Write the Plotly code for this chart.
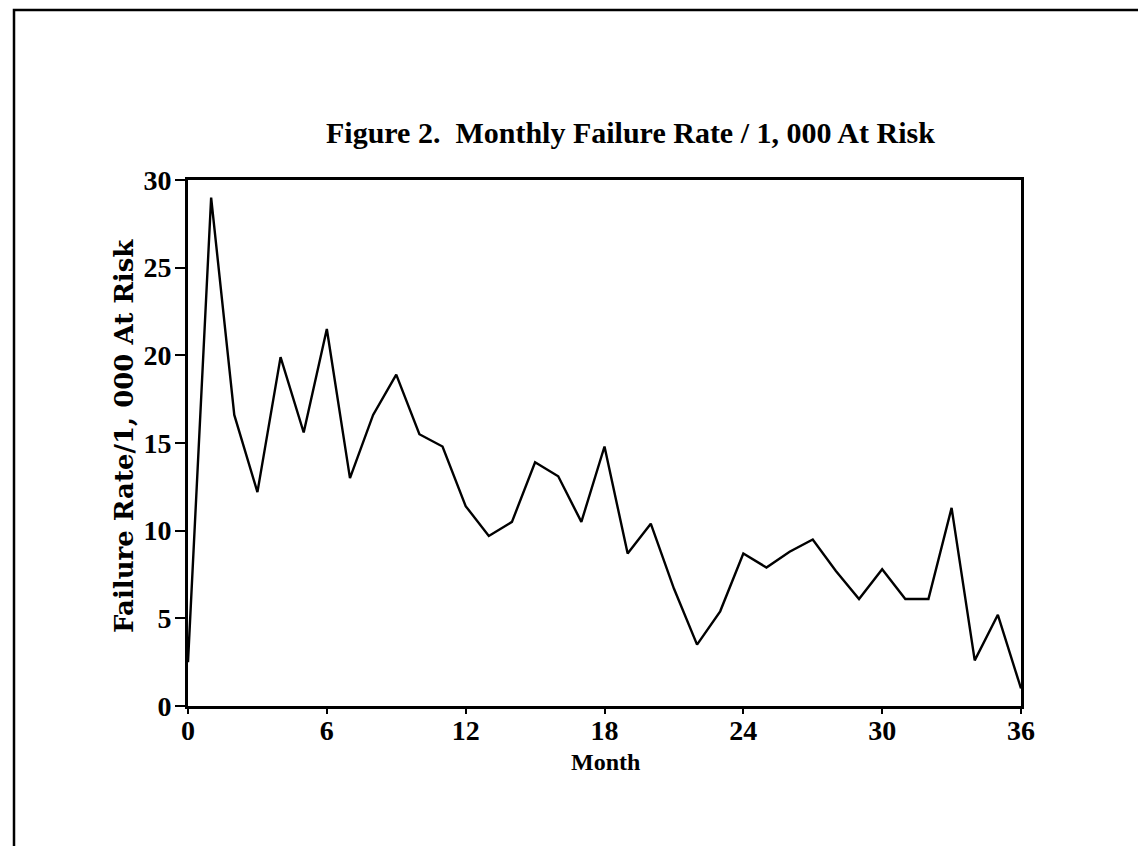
import plotly.graph_objects as go

months = list(range(0, 37))
failure_rate = [2.5, 29.0, 16.6, 12.2, 19.9, 15.6, 21.5, 13.0, 16.6, 18.9,
                15.5, 14.8, 11.4, 9.7, 10.5, 13.9, 13.1, 10.5, 14.8, 8.7,
                10.4, 6.7, 3.5, 5.4, 8.7, 7.9, 8.8, 9.5, 7.7, 6.1,
                7.8, 6.1, 6.1, 11.3, 2.6, 5.2, 1.0]
x_ticks = [0, 6, 12, 18, 24, 30, 36]
y_ticks = [0, 5, 10, 15, 20, 25, 30]

title_text = "Figure 2.\u00a0\u00a0Monthly Failure Rate / 1, 000 At Risk"
x_title = "Month"
y_title = "Failure Rate/1, 000 At Risk"

W, H = 1146, 846
L, R, T, B = 180, 1013, 172, 698

def px(xp):
    return (xp - L) / (R - L)

def py(yp):
    return (B - yp) / (B - T)

tick_font = dict(family="Liberation Serif", size=28, color="black", weight="bold")

fig = go.Figure()
fig.add_trace(go.Scatter(x=months, y=failure_rate, mode="lines",
                         line=dict(color="black", width=2.4),
                         showlegend=False, hoverinfo="x+y"))

fig.update_layout(
    width=W, height=H,
    margin=dict(l=L, r=W - R, t=T, b=H - B, pad=0),
    paper_bgcolor="white", plot_bgcolor="white",
    showlegend=False,
    xaxis=dict(range=[0, 36], tickvals=x_ticks, ticktext=[str(v) for v in x_ticks],
               showgrid=False, zeroline=False, showline=True, linecolor="black",
               linewidth=2.8, mirror=True, ticks="outside", ticklen=5, tickwidth=2,
               tickcolor="black", tickfont=tick_font, ticklabelstandoff=-8),
    yaxis=dict(range=[0, 30], tickvals=y_ticks, ticktext=[str(v) for v in y_ticks],
               showgrid=False, zeroline=False, showline=True, linecolor="black",
               linewidth=2.8, mirror=True, ticks="outside", ticklen=10, tickwidth=2,
               tickcolor="black", tickfont=tick_font, ticklabelstandoff=-2),
)

fig.add_annotation(text=title_text, xref="paper", yref="paper",
                   x=px(622), y=py(125), xanchor="center", yanchor="middle",
                   showarrow=False,
                   font=dict(family="Liberation Serif", size=30, color="black", weight="bold"))
fig.add_annotation(text=x_title, xref="paper", yref="paper",
                   x=px(597), y=py(754), xanchor="center", yanchor="middle",
                   showarrow=False,
                   font=dict(family="Liberation Serif", size=24, color="black", weight="bold"))
fig.add_annotation(text=y_title, xref="paper", yref="paper",
                   x=px(116), y=py(428), xanchor="center", yanchor="middle",
                   textangle=-90, showarrow=False,
                   font=dict(family="DejaVu Serif", size=26, color="black", weight="bold"))

fig.add_shape(type="rect", xref="paper", yref="paper",
              x0=px(6), x1=px(1140), y0=py(845), y1=py(2),
              line=dict(color="black", width=2.5), fillcolor="rgba(0,0,0,0)", layer="below")

fig.write_html("out.html")
